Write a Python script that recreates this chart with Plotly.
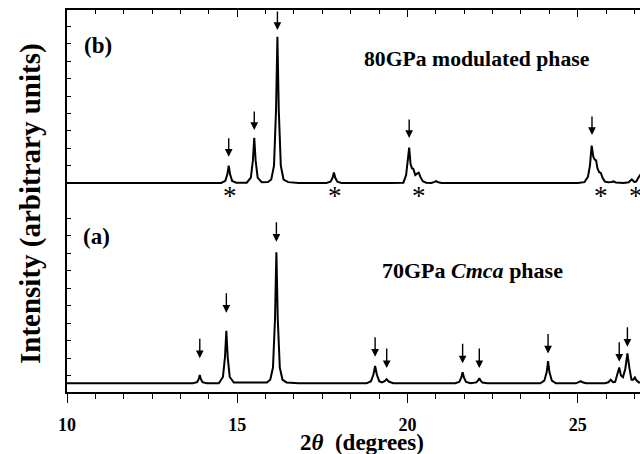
import plotly.graph_objects as go

# ---------------- data ----------------
# Panel (b): 80 GPa modulated phase  (intensity in arbitrary units)
top_x = [10.0, 13.5, 14.53, 14.65, 14.71, 14.75, 14.79, 14.85, 14.97,
         15.28, 15.40, 15.46, 15.50, 15.54, 15.60, 15.72,
         15.90, 16.00, 16.08, 16.14, 16.18, 16.22, 16.28, 16.36, 16.50, 16.80,
         17.62, 17.74, 17.80, 17.84, 17.88, 17.94, 18.06,
         19.50, 19.88, 19.96, 20.01, 20.05, 20.09, 20.13, 20.17, 20.23, 20.29,
         20.33, 20.38, 20.45, 20.55, 20.70, 20.80, 20.84, 20.88, 21.00,
         25.00, 25.20, 25.30, 25.36, 25.41, 25.46, 25.50, 25.54, 25.58, 25.63,
         25.68, 25.73, 25.80, 25.90, 26.00, 26.05, 26.12, 26.35, 26.50, 26.59,
         26.66, 26.72, 26.78, 26.85]
top_y = [0.0, 0.0, 0.0, 0.12, 0.5, 0.99, 0.5, 0.12, 0.02,
         0.02, 0.31, 1.3, 2.6, 1.3, 0.31, 0.04,
         0.05, 0.2, 1.0, 4.2, 8.41, 4.2, 1.0, 0.2, 0.05, 0.0,
         0.0, 0.07, 0.3, 0.61, 0.3, 0.07, 0.0,
         0.0, 0.02, 0.45, 1.5, 2.03, 1.1, 0.85, 0.82, 0.46, 0.55,
         0.59, 0.35, 0.1, 0.02, 0.0, 0.06, 0.12, 0.06, 0.0,
         0.0, 0.05, 0.35, 1.0, 2.15, 1.5, 1.35, 1.3, 0.85, 0.62,
         0.58, 0.3, 0.08, 0.04, 0.06, 0.09, 0.03, 0.0, 0.04, 0.21,
         0.06, 0.08, 0.3, 0.5]

# Panel (a): 70 GPa Cmca phase
bot_x = [10.0, 13.70, 13.82, 13.87, 13.90, 13.93, 13.98, 14.10,
         14.46, 14.58, 14.64, 14.68, 14.72, 14.78, 14.90,
         15.87, 15.97, 16.05, 16.11, 16.15, 16.19, 16.25, 16.33, 16.45, 16.80,
         18.80, 18.93, 19.00, 19.05, 19.10, 19.17, 19.25, 19.33, 19.39, 19.45, 19.58,
         21.40, 21.52, 21.58, 21.62, 21.66, 21.72, 21.85, 22.02, 22.07, 22.11,
         22.15, 22.20, 22.35,
         23.90, 24.02, 24.09, 24.13, 24.17, 24.24, 24.36,
         24.95, 25.04, 25.09, 25.14, 25.25,
         25.80, 25.90, 25.97, 26.04, 26.10, 26.16, 26.22, 26.27, 26.33, 26.40,
         26.46, 26.52, 26.58, 26.63, 26.68, 26.73, 26.80, 26.85]
bot_y = [0.0, 0.0, 0.06, 0.25, 0.47, 0.25, 0.06, 0.0,
         0.0, 0.36, 1.5, 3.0, 1.5, 0.36, 0.04,
         0.04, 0.2, 0.9, 3.7, 7.49, 3.7, 0.9, 0.2, 0.05, 0.0,
         0.0, 0.12, 0.5, 0.99, 0.5, 0.12, 0.05, 0.12, 0.23, 0.1, 0.0,
         0.0, 0.08, 0.32, 0.63, 0.32, 0.08, 0.0, 0.05, 0.15, 0.29,
         0.15, 0.04, 0.0,
         0.0, 0.15, 0.64, 1.27, 0.64, 0.15, 0.0,
         0.0, 0.06, 0.12, 0.06, 0.0,
         0.0, 0.06, 0.2, 0.06, 0.08, 0.45, 0.9, 0.45, 0.35, 0.85,
         1.71, 0.85, 0.2, 0.2, 0.34, 0.15, 0.05, 0.04]

# marked reflections (arrows) and their arrow-tip heights
top_arrow_x = [14.75, 15.50, 16.18, 20.05, 25.42]
top_arrow_y = [1.51, 3.05, 8.79, 2.59, 2.76]
bot_arrow_x = [13.90, 14.68, 16.15, 19.05, 19.39, 21.62, 22.11, 24.13, 26.22, 26.46]
bot_arrow_y = [1.43, 4.03, 8.09, 1.52, 0.87, 1.14, 0.87, 1.71, 1.23, 2.09]
# asterisks (impurity / other reflections) in panel (b)
star_x = [14.78, 17.86, 20.35, 25.68, 26.70]

x_major = [10, 15, 20, 25]
x_range = [10, 26.83]

SERIF = "Liberation Serif"

fig = go.Figure()
fig.add_trace(go.Scatter(x=bot_x, y=bot_y, xaxis="x", yaxis="y", mode="lines",
                         line=dict(color="black", width=2), showlegend=False,
                         hoverinfo="skip"))
fig.add_trace(go.Scatter(x=top_x, y=top_y, xaxis="x2", yaxis="y2", mode="lines",
                         line=dict(color="black", width=2), showlegend=False,
                         hoverinfo="skip"))

split = (392 - 200) / 382.0

common_x = dict(range=x_range, showgrid=False, zeroline=False, showline=True,
                linecolor="black", linewidth=2)

fig.update_layout(
    width=640, height=454,
    margin=dict(l=67, r=0, t=10, b=62),
    paper_bgcolor="white", plot_bgcolor="white",
    xaxis=dict(**common_x, anchor="y", domain=[0, 1],
               tickmode="array", tickvals=x_major, ticktext=[str(v) for v in x_major],
               ticks="outside", ticklen=9, tickwidth=1.3, tickcolor="black",
               ticklabelstandoff=6,
               tickfont=dict(family=SERIF, size=18, color="black", weight="bold"),
               minor=dict(tickmode="linear", tick0=10, dtick=5 / 6, ticks="outside",
                          ticklen=4.5, tickwidth=1.2, tickcolor="black")),
    xaxis3=dict(**common_x, anchor="y", overlaying="x", side="top",
                tickmode="array", tickvals=x_major, showticklabels=False,
                ticks="inside", ticklen=6, tickwidth=1.3, tickcolor="black",
                minor=dict(tickmode="linear", tick0=10, dtick=5 / 6, ticks="inside",
                           ticklen=4, tickwidth=1.2, tickcolor="black")),
    xaxis2=dict(**common_x, anchor="y2", side="top", domain=[0, 1],
                tickmode="array", tickvals=x_major, showticklabels=False,
                ticks="inside", ticklen=7, tickwidth=1.3, tickcolor="black",
                minor=dict(tickmode="linear", tick0=10, dtick=5 / 6, ticks="inside",
                           ticklen=4, tickwidth=1.2, tickcolor="black")),
    yaxis=dict(domain=[0, split], range=[-0.497, 10.474], anchor="x",
               showgrid=False, zeroline=False, showline=True, linecolor="black",
               linewidth=2, ticks="inside", ticklen=4, tickwidth=1.1,
               tickcolor="black", tickmode="linear", tick0=0.434, dtick=1,
               showticklabels=False),
    yaxis2=dict(domain=[split, 1], range=[-0.977, 9.943], anchor="x2",
                showgrid=False, zeroline=False, showline=True, linecolor="black",
                linewidth=2, ticks="inside", ticklen=4, tickwidth=1.1,
                tickcolor="black", tickmode="linear", tick0=0, dtick=1,
                showticklabels=False),
)

ann = []
for xv, yv in zip(top_arrow_x, top_arrow_y):
    ann.append(dict(x=xv, y=yv, xref="x2", yref="y2", ax=0, ay=-20, text="",
                    showarrow=True, arrowhead=2, arrowsize=1.1, arrowwidth=1.4,
                    arrowcolor="black"))
for xv, yv in zip(bot_arrow_x, bot_arrow_y):
    ann.append(dict(x=xv, y=yv, xref="x", yref="y", ax=0, ay=-21, text="",
                    showarrow=True, arrowhead=2, arrowsize=1.1, arrowwidth=1.4,
                    arrowcolor="black"))
for xv in star_x:
    ann.append(dict(x=xv, y=-0.4, xref="x2", yref="y2", text="*", showarrow=False,
                    yanchor="middle", xanchor="center", yshift=-6,
                    font=dict(family=SERIF, size=27, color="black")))

ann += [
    dict(x=(82 - 67) / 573, y=(392 - 45) / 382, xref="paper", yref="paper",
         text="<b>(b)</b>", showarrow=False, xanchor="left", yanchor="middle",
         font=dict(family=SERIF, size=23, color="black")),
    dict(x=(362 - 67) / 573, y=(392 - 59) / 382, xref="paper", yref="paper",
         text="<b>80GPa modulated phase</b>", showarrow=False, xanchor="left",
         yanchor="middle", font=dict(family=SERIF, size=21.7, color="black")),
    dict(x=(81 - 67) / 573, y=(392 - 236) / 382, xref="paper", yref="paper",
         text="<b>(a)</b>", showarrow=False, xanchor="left", yanchor="middle",
         font=dict(family=SERIF, size=23, color="black")),
    dict(x=(380 - 67) / 573, y=(392 - 270) / 382, xref="paper", yref="paper",
         text="<b>70GPa <i>Cmca</i> phase</b>", showarrow=False, xanchor="left",
         yanchor="middle", font=dict(family=SERIF, size=22, color="black")),
    dict(x=(362 - 67) / 573, y=(392 - 442) / 382, xref="paper", yref="paper",
         text="<b>2<i>θ</i>  (degrees)</b>", showarrow=False, xanchor="center",
         yanchor="middle", font=dict(family=SERIF, size=23, color="black")),
    dict(x=(30 - 67) / 573, y=(392 - 204) / 382, xref="paper", yref="paper",
         text="<b>Intensity (arbitrary units)</b>", showarrow=False, textangle=-90,
         xanchor="center", yanchor="middle",
         font=dict(family=SERIF, size=29, color="black")),
]
fig.update_layout(annotations=ann)

fig.write_html("out.html")
